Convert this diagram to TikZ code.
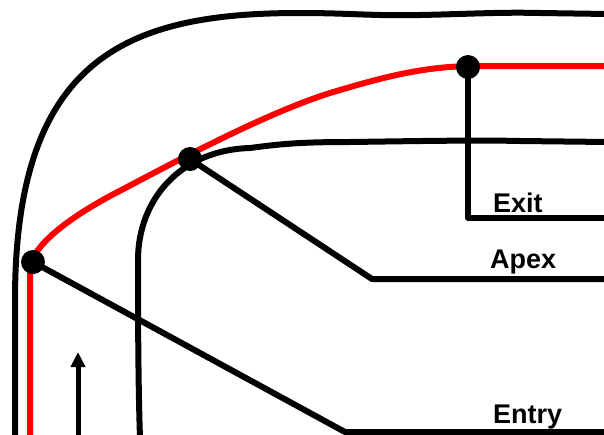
\documentclass[tikz,border=0pt]{standalone}
\usepackage{fontspec}
\setmainfont{Liberation Sans}
\usetikzlibrary{arrows.meta}
\begin{document}
\begin{tikzpicture}[x=1pt,y=-1pt,
  edge/.style={line width=6pt,line cap=round,line join=round},
  racing/.style={line width=6pt,red,line cap=round,line join=round},
  dotnode/.style={circle,fill=black,inner sep=0pt,minimum size=24pt},
  lbl/.style={anchor=base west,inner sep=0pt,font=\fontsize{27}{31}\selectfont\bfseries}]
\useasboundingbox (0,0) rectangle (604,434);
% track edges
\draw[edge] (15,438) -- (15,300) .. controls (15,55) and (130,13) .. (300,13)
  .. controls (350,13) and (370,16) .. (420,15) .. controls (470,14) and (500,12) .. (540,13) -- (608,14);
\draw[edge] (140,438) .. controls (138,380) and (138,300) .. (138,260)
  .. controls (138,200) and (180,150) .. (250,148)
  .. controls (280,144) and (300,142) .. (350,142) .. controls (420,141) and (480,140) .. (520,141) -- (608,142);
% racing line
\draw[racing] (30,438) -- (30,268) .. controls (32,248) and (62,222) .. (110,196)
  .. controls (158,171) and (260,115) .. (330,93)
  .. controls (380,78) and (420,67) .. (470,66) -- (608,66);
% points
\node[dotnode] (entry) at (33,262) {};
\node[dotnode] (apex) at (190,159) {};
\node[dotnode] (exit) at (468,67) {};
% leader lines
\coordinate (entrybend) at (345,432);
\coordinate (entryend) at (608,432);
\coordinate (apexbend) at (372,279);
\coordinate (apexend) at (608,279);
\coordinate (exitbend) at (468,218);
\coordinate (exitend) at (608,218);
\draw[edge] (entry.center) -- (entrybend) -- (entryend);
\draw[edge] (apex.center) -- (apexbend) -- (apexend);
\draw[edge] (exit.center) -- (exitbend) -- (exitend);
% labels
\node[lbl] (exitlbl) at (493,212) {Exit};
\node[lbl] (apexlbl) at (490,268) {Apex};
\node[lbl] (entrylbl) at (493,423) {Entry};
% direction arrow
\coordinate (arrowstart) at (78,438);
\coordinate (arrowtip) at (78,352);
\draw[line width=5pt,-{Triangle[width=14pt,length=15pt]}] (arrowstart) -- (arrowtip);
\end{tikzpicture}
\end{document}
